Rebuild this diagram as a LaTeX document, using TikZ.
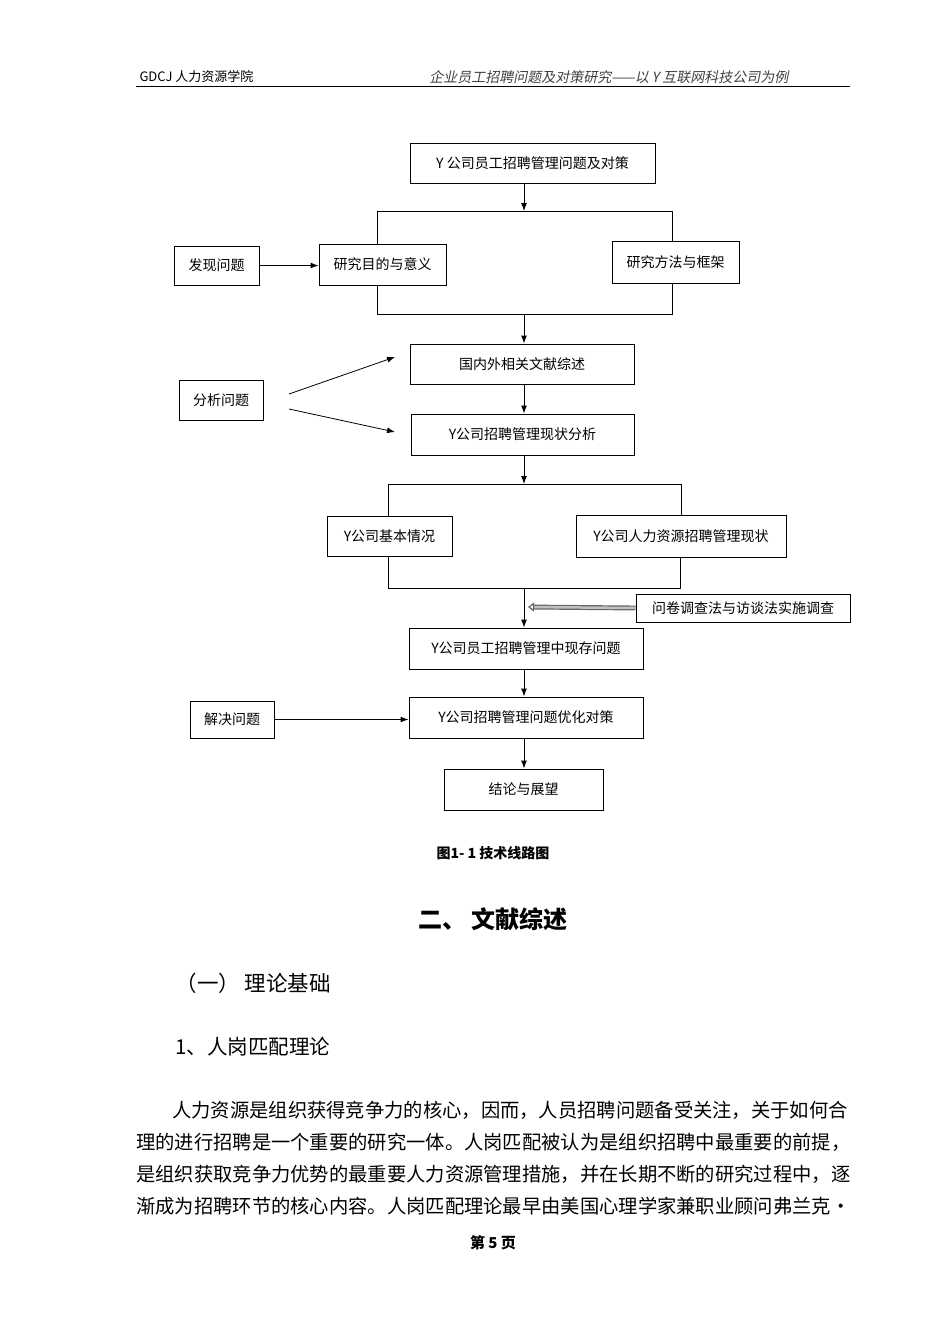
\documentclass[tikz,border=0pt]{standalone}
\usepackage{fontspec}
\setmainfont{Noto Sans CJK SC}
\newfontfamily\slcjk[FakeSlant=0.2]{Noto Sans CJK SC}
\usetikzlibrary{arrows.meta}
\begin{document}
\begin{tikzpicture}[x=1pt,y=-1pt,
  box/.style={draw,line width=1pt,inner sep=0pt,font=\fontsize{14}{16}\selectfont},
  ln/.style={line width=1pt},
  ar/.style={line width=1pt,-{Latex[length=8pt,width=6pt]}}]
\useasboundingbox (0,0) rectangle (950,1344);
% header
\node[anchor=west,font=\fontsize{13}{15}\selectfont] (h1) at (136,77) {GDCJ 人力资源学院};
\node[anchor=east,font=\slcjk\fontsize{14}{16}\selectfont,text=black!75] (h2) at (792,77) {企业员工招聘问题及对策研究——以 Y 互联网科技公司为例};
\draw[line width=1.5pt] (136,86.5) -- (850,86.5);
% boxes
\newcommand\bx[6]{\node[box,minimum width=#4-#2,minimum height=#5-#3] (#1) at ({(#2+#4)/2},{(#3+#5)/2}) {#6};}
\bx{A}{410}{143}{655}{183}{Y 公司员工招聘管理问题及对策}
\bx{B}{319}{244}{446}{285}{研究目的与意义}
\bx{C}{612}{241}{739}{283}{研究方法与框架}
\bx{Fa}{174}{246}{259}{285}{发现问题}
\bx{D}{410}{344}{634}{384}{国内外相关文献综述}
\bx{E}{411}{414}{634}{455}{Y公司招聘管理现状分析}
\bx{An}{179}{380}{263}{420}{分析问题}
\bx{F}{327}{516}{452}{556}{Y公司基本情况}
\bx{G}{576}{515}{786}{557}{Y公司人力资源招聘管理现状}
\bx{S}{636}{594}{850}{622}{问卷调查法与访谈法实施调查}
\bx{H}{409}{628}{643}{669}{Y公司员工招聘管理中现存问题}
\bx{I}{409}{697}{643}{738}{Y公司招聘管理问题优化对策}
\bx{J}{190}{701}{274}{738}{解决问题}
\bx{K}{444}{769}{603}{810}{结论与展望}
% coordinates
\coordinate (t1) at (524,211);
\coordinate (t2) at (524,314);
\coordinate (t3) at (524,484);
\coordinate (t4) at (524,588);
\coordinate (p1) at (289,394);
\coordinate (p2) at (289,409);
\coordinate (q1) at (395,357);
\coordinate (q2) at (395,432);
\coordinate (sa) at (528,607);
% connectors
\draw[ar] (A.south -| t1) -- (t1);
\draw[ln] (B.north -| 377,0) -- (377,211) -- (672,211) -- (C.north -| 672,0);
\draw[ar] (Fa.east) -- (B.west |- Fa.east);
\draw[ln] (B.south -| 377,0) -- (377,314) -- (672,314) -- (C.south -| 672,0);
\draw[ar] (t2) -- (D.north -| t2);
\draw[ar] (D.south -| 524,0) -- (E.north -| 524,0);
\draw[ar,line width=0.8pt] (p1) -- (q1);
\draw[ar,line width=0.8pt] (p2) -- (q2);
\draw[ar] (E.south -| t3) -- (t3);
\draw[ln] (F.north -| 388,0) -- (388,484) -- (681,484) -- (G.north -| 681,0);
\draw[ln] (F.south -| 388,0) -- (388,588) -- (680,588) -- (G.south -| 680,0);
\draw[ar] (t4) -- (H.north -| t4);
\draw[double=black!25,double distance=2.5pt,line width=1.2pt,draw=black!60,-{Triangle[open,length=6pt,width=9pt]}] (S.west) -- (sa);
\draw[ar] (H.south -| 524,0) -- (I.north -| 524,0);
\draw[ar] (J.east) -- (I.west |- J.east);
\draw[ar] (I.south -| 524,0) -- (K.north -| 524,0);
% caption and text
\node[font=\fontsize{14}{16}\selectfont\bfseries] (cap) at (493,853) {图1- 1 技术线路图};
\node[font=\fontsize{24}{27}\selectfont\bfseries] (h) at (493,919) {二、 文献综述};
\node[anchor=west,font=\fontsize{21.5}{24}\selectfont] (s1) at (172,983) {（一） 理论基础};
\node[anchor=west,font=\fontsize{20.5}{24}\selectfont] (s2) at (172,1047) {1、人岗匹配理论};
\tikzset{par/.style={anchor=west,inner sep=0pt,font=\fontsize{19.3}{22}\selectfont,text width=714pt,align=justify}}
\node[par,text width=678pt] (l1) at (172,1110) {人力资源是组织获得竞争力的核心，因而，人员招聘问题备受关注，关于如何合};
\node[par] (l2) at (136,1142) {理的进行招聘是一个重要的研究一体。人岗匹配被认为是组织招聘中最重要的前提，};
\node[par] (l3) at (136,1174) {是组织获取竞争力优势的最重要人力资源管理措施，并在长期不断的研究过程中，逐};
\node[par] (l4) at (136,1206) {渐成为招聘环节的核心内容。人岗匹配理论最早由美国心理学家兼职业顾问弗兰克·};
\node[font=\fontsize{15}{17}\selectfont\bfseries] (ft) at (493,1243) {第 5 页};
\end{tikzpicture}
\end{document}
